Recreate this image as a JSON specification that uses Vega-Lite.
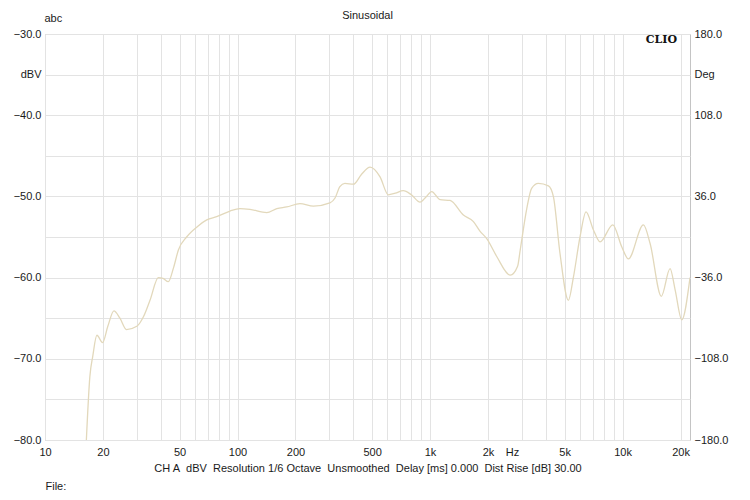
{
  "$schema": "https://vega.github.io/schema/vega-lite/v6.json",
  "width": 645,
  "height": 406,
  "autosize": {"type": "none"},
  "padding": {"left": 45, "top": 34, "right": 60, "bottom": 60},
  "background": "white",
  "title": {
    "text": "Sinusoidal",
    "anchor": "middle",
    "font": "Liberation Sans",
    "fontSize": 11,
    "fontWeight": "normal",
    "color": "#1a1a1a",
    "offset": -9
  },
  "config": {
    "view": {"stroke": "#c4c4c4", "strokeWidth": 1},
    "axis": {
      "labelFont": "Liberation Sans",
      "labelFontSize": 11,
      "labelColor": "#1a1a1a",
      "titleFont": "Liberation Sans",
      "titleFontSize": 11,
      "titleFontWeight": "normal",
      "titleColor": "#1a1a1a",
      "domain": false,
      "ticks": false,
      "gridColor": "#e3e3e3",
      "gridWidth": 1,
      "labelOverlap": false,
      "labelBound": false
    }
  },
  "datasets": {
    "response": [
      {"freq": 16.4, "level": -80.0},
      {"freq": 17.1, "level": -72.2},
      {"freq": 17.7, "level": -69.7},
      {"freq": 18.6, "level": -67.1},
      {"freq": 19.9, "level": -68.0},
      {"freq": 21.2, "level": -66.0},
      {"freq": 22.8, "level": -64.1},
      {"freq": 24.5, "level": -65.0},
      {"freq": 26.5, "level": -66.4},
      {"freq": 30, "level": -66.0},
      {"freq": 32.5, "level": -64.8},
      {"freq": 35.1, "level": -62.8},
      {"freq": 38.8, "level": -60.0},
      {"freq": 41, "level": -60.1},
      {"freq": 43.7, "level": -60.5},
      {"freq": 46.5, "level": -58.8},
      {"freq": 49.3, "level": -56.6},
      {"freq": 54.4, "level": -55.0},
      {"freq": 62, "level": -53.7},
      {"freq": 69.2, "level": -52.9},
      {"freq": 77.9, "level": -52.5},
      {"freq": 91.4, "level": -51.8},
      {"freq": 103, "level": -51.5},
      {"freq": 116, "level": -51.6},
      {"freq": 141.8, "level": -52.0},
      {"freq": 160, "level": -51.5},
      {"freq": 180, "level": -51.3},
      {"freq": 211, "level": -50.9},
      {"freq": 248, "level": -51.2},
      {"freq": 302, "level": -50.8},
      {"freq": 321, "level": -50.2},
      {"freq": 340, "level": -48.8},
      {"freq": 361, "level": -48.4},
      {"freq": 400, "level": -48.5},
      {"freq": 440, "level": -47.3},
      {"freq": 488, "level": -46.4},
      {"freq": 550, "level": -47.6},
      {"freq": 607, "level": -49.8},
      {"freq": 660, "level": -49.6},
      {"freq": 726, "level": -49.3},
      {"freq": 800, "level": -49.8},
      {"freq": 887, "level": -50.7},
      {"freq": 950, "level": -50.1},
      {"freq": 1020, "level": -49.4},
      {"freq": 1128, "level": -50.4},
      {"freq": 1270, "level": -50.5},
      {"freq": 1490, "level": -52.3},
      {"freq": 1680, "level": -53.1},
      {"freq": 1820, "level": -54.3},
      {"freq": 1970, "level": -55.2},
      {"freq": 2220, "level": -57.4},
      {"freq": 2610, "level": -59.7},
      {"freq": 2850, "level": -58.6},
      {"freq": 2940, "level": -56.6},
      {"freq": 3180, "level": -51.5},
      {"freq": 3370, "level": -49.0},
      {"freq": 3650, "level": -48.4},
      {"freq": 4120, "level": -48.7},
      {"freq": 4370, "level": -50.0},
      {"freq": 4730, "level": -57.0},
      {"freq": 5230, "level": -62.8},
      {"freq": 5550, "level": -60.0},
      {"freq": 6010, "level": -55.0},
      {"freq": 6460, "level": -51.9},
      {"freq": 7050, "level": -54.1},
      {"freq": 7640, "level": -55.6},
      {"freq": 8900, "level": -53.5},
      {"freq": 9900, "level": -56.2},
      {"freq": 10720, "level": -57.7},
      {"freq": 12830, "level": -53.5},
      {"freq": 13900, "level": -55.8},
      {"freq": 15900, "level": -62.3},
      {"freq": 17650, "level": -58.9},
      {"freq": 18750, "level": -61.5},
      {"freq": 20300, "level": -65.2},
      {"freq": 22400, "level": -60.0}
    ],
    "brand": [
      {"freq": 19190, "level": -30.75, "label": "CLIO"}
    ]
  },
  "layer": [
    {
      "data": {"name": "response"},
      "mark": {"type": "line", "interpolate": "monotone", "color": "#e2d8bb", "strokeWidth": 1.3, "clip": true},
      "encoding": {
        "x": {
          "field": "freq",
          "type": "quantitative",
          "scale": {"type": "log", "domain": [10, 22400], "nice": false},
          "axis": {
            "values": [10, 20, 30, 40, 50, 60, 70, 80, 90, 100, 200, 300, 400, 500, 600, 700, 800, 900, 1000, 2000, 3000, 4000, 5000, 6000, 7000, 8000, 9000, 10000, 20000],
            "grid": true,
            "labelExpr": "datum.value == 3000 ? 'Hz' : ((datum.value == 10 || datum.value == 20 || datum.value == 50 || datum.value == 100 || datum.value == 200 || datum.value == 500) ? '' + datum.value : ((datum.value == 1000 || datum.value == 2000 || datum.value == 5000 || datum.value == 10000 || datum.value == 20000) ? (datum.value / 1000) + 'k' : ''))",
            "labelOffset": {"condition": {"test": "datum.value == 3000", "value": -10}, "value": 0},
            "labelPadding": 6,
            "labelFlush": false,
            "title": "CH A\u00a0 dBV\u00a0 Resolution 1/6 Octave\u00a0 Unsmoothed\u00a0 Delay [ms] 0.000\u00a0 Dist Rise [dB] 30.00",
            "titleY": 28,
            "titleBaseline": "middle"
          }
        },
        "y": {
          "field": "level",
          "type": "quantitative",
          "scale": {"domain": [-80, -30], "nice": false, "zero": false},
          "axis": {
            "values": [-80, -75, -70, -65, -60, -55, -50, -45, -40, -35, -30],
            "grid": true,
            "labelExpr": "datum.value == -35 ? 'dBV' : (datum.value % 10 == 0 ? format(datum.value, '.1f') : '')",
            "labelPadding": 4,
            "title": "abc",
            "titleAngle": 0,
            "titleAlign": "left",
            "titleBaseline": "middle",
            "titleX": -1,
            "titleY": -16
          }
        }
      }
    },
    {
      "data": {"name": "brand"},
      "mark": {"type": "text", "align": "right", "baseline": "middle", "font": "DejaVu Serif", "fontWeight": "bold", "fontSize": 11, "color": "#111"},
      "encoding": {
        "x": {
          "field": "freq",
          "type": "quantitative",
          "scale": {"type": "log", "domain": [10, 22400], "nice": false},
          "axis": {
            "orient": "bottom",
            "grid": false,
            "labels": false,
            "title": "File:",
            "titleX": 0,
            "titleY": 46,
            "titleAlign": "left",
            "titleBaseline": "middle"
          }
        },
        "y": {
          "field": "level",
          "type": "quantitative",
          "scale": {"domain": [-80, -30], "nice": false, "zero": false},
          "axis": {
            "orient": "right",
            "values": [-80, -70, -60, -50, -40, -35, -30],
            "grid": false,
            "labelExpr": "datum.value == -35 ? 'Deg' : format((datum.value + 55) * 7.2, '.1f')",
            "labelPadding": 4,
            "title": null
          }
        },
        "text": {"field": "label"}
      }
    }
  ],
  "resolve": {"axis": {"x": "independent", "y": "independent"}}
}
